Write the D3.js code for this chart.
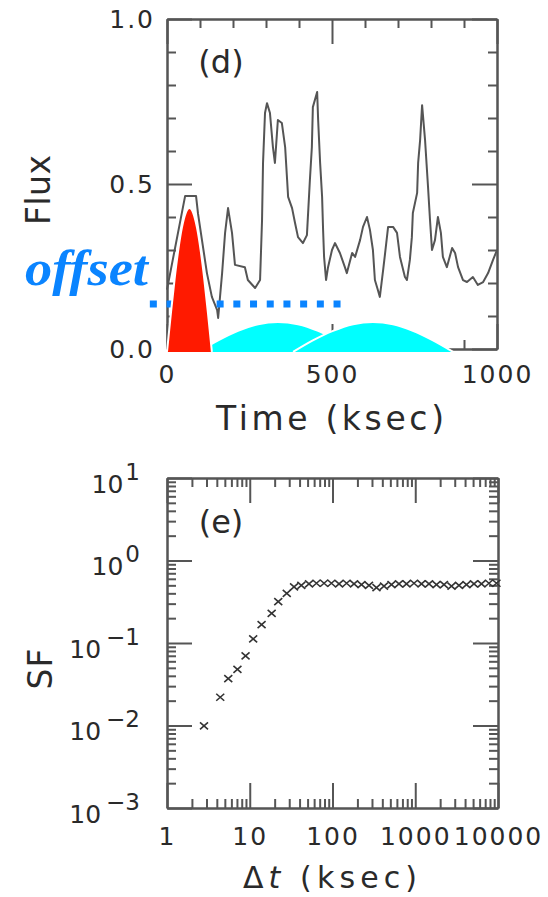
<!DOCTYPE html>
<html>
<head>
<meta charset="utf-8">
<script src="https://cdn.jsdelivr.net/npm/d3@7"></script>
<style>
body { margin: 0; background: #fff; }
text { font-family: "DejaVu Sans", sans-serif; fill: #2a2a2a; }
.axis path, .axis line { stroke: #555; stroke-width: 2; }
</style>
</head>
<body>
<div id="chart"></div>
<script>
var svgWidth = 548;
var svgHeight = 897;

// ---- panel (d): light curve ----
var lcTime = [0, 55, 88, 94, 106, 121, 136, 152, 155, 167, 176, 185, 197, 206, 236, 245, 267, 282, 288, 291,
  297, 303, 312, 321, 327, 336, 348, 358, 364, 367, 379, 388, 397, 412, 424, 433, 439, 442, 455, 458,
  464, 470, 473, 476, 482, 488, 500, 509, 524, 539, 545, 561, 570, 585, 594, 606, 615, 624, 630, 639,
  645, 655, 661, 670, 685, 697, 706, 721, 727, 736, 742, 745, 758, 761, 767, 773, 782, 791, 797, 803,
  812, 821, 830, 836, 848, 864, 873, 882, 897, 909, 927, 942, 958, 973, 988, 1000];
var lcFlux = [0.18, 0.464, 0.464, 0.41, 0.33, 0.23, 0.158, 0.118, 0.094, 0.23, 0.352, 0.427, 0.352, 0.255, 0.248, 0.209, 0.185, 0.209, 0.391, 0.564,
  0.715, 0.745, 0.715, 0.612, 0.564, 0.694, 0.685, 0.612, 0.512, 0.461, 0.427, 0.382, 0.339, 0.321, 0.345, 0.512, 0.612, 0.733, 0.779, 0.694,
  0.564, 0.461, 0.361, 0.279, 0.209, 0.248, 0.30, 0.321, 0.291, 0.248, 0.23, 0.291, 0.279, 0.33, 0.37, 0.40, 0.361, 0.30, 0.209, 0.179,
  0.158, 0.24, 0.291, 0.37, 0.37, 0.352, 0.279, 0.218, 0.209, 0.27, 0.339, 0.412, 0.473, 0.564, 0.633, 0.739, 0.633, 0.491, 0.391, 0.30,
  0.33, 0.40, 0.352, 0.279, 0.248, 0.306, 0.291, 0.248, 0.209, 0.203, 0.218, 0.194, 0.203, 0.23, 0.27, 0.30];

// flare components
var redTime = [0, 12, 23, 34, 45, 57, 68, 79, 91, 102, 113, 124, 136];
var redFlux = [-0.009, 0.11, 0.212, 0.299, 0.367, 0.413, 0.427, 0.413, 0.367, 0.299, 0.212, 0.11, -0.009];
var cyan1Time = [94, 155, 215, 276, 336, 397, 458, 518, 579];
var cyan1Flux = [-0.009, 0.026, 0.055, 0.075, 0.082, 0.075, 0.055, 0.026, -0.009];
var cyan2Time = [382, 442, 503, 564, 624, 685, 745, 806, 867];
var cyan2Flux = [-0.009, 0.026, 0.055, 0.075, 0.082, 0.075, 0.055, 0.026, -0.009];
var offsetLevel = 0.136;
var offsetSpan = [-52, 530];

var timeTicks = [0, 500, 1000];
var timeMinor = [100, 200, 300, 400, 600, 700, 800, 900];
var fluxTicks = [0, 0.5, 1.0];
var fluxMinor = [0.1, 0.2, 0.3, 0.4, 0.6, 0.7, 0.8, 0.9];

// ---- panel (e): structure function ----
var sfLag = [2.8, 4.4, 5.5, 7.1, 8.9, 11, 13.9, 18.4, 22.1, 28, 34.3,
  42, 52, 64, 79, 97, 120, 148, 182, 224, 276, 340, 419, 516, 636, 784, 966,
  1190, 1466, 1806, 2225, 2741, 3377, 4160, 5125, 6314, 7778, 9582];
var sfValue = [0.0099, 0.022, 0.037, 0.048, 0.070, 0.112, 0.167, 0.229, 0.317, 0.40, 0.48,
  0.50, 0.52, 0.53, 0.53, 0.53, 0.52, 0.53, 0.52, 0.51, 0.50, 0.47, 0.49, 0.51, 0.52, 0.52, 0.53,
  0.52, 0.52, 0.51, 0.51, 0.49, 0.50, 0.51, 0.52, 0.52, 0.53, 0.53];

var lagTicks = [1, 10, 100, 1000, 10000];
var lagMinor = [2, 3, 4, 5, 6, 7, 8, 9, 20, 30, 40, 50, 60, 70, 80, 90,
  200, 300, 400, 500, 600, 700, 800, 900, 2000, 3000, 4000, 5000, 6000, 7000, 8000, 9000];
var sfTicks = [0.001, 0.01, 0.1, 1, 10];
var sfMinor = [0.002, 0.003, 0.004, 0.005, 0.006, 0.007, 0.008, 0.009,
  0.02, 0.03, 0.04, 0.05, 0.06, 0.07, 0.08, 0.09,
  0.2, 0.3, 0.4, 0.5, 0.6, 0.7, 0.8, 0.9, 2, 3, 4, 5, 6, 7, 8, 9];

var svg = d3.select("#chart").append("svg").attr("width", svgWidth).attr("height", svgHeight);

function addAxis(axis, tx, ty) {
  return svg.append("g").attr("class", "axis").attr("transform", `translate(${tx},${ty})`).call(axis);
}

// four-sided frame with inward ticks, labels on bottom and left only
function frame(x, y, majorX, minorX, majorY, minorY, minorLen, fmtX, padX, fmtY, padY) {
  var x0 = x.range()[0], x1 = x.range()[1];
  var yb = y.range()[0], yt = y.range()[1];
  addAxis(d3.axisBottom(x).tickValues(minorX).tickSize(-minorLen).tickSizeOuter(0).tickFormat(""), 0, yb);
  var gb = addAxis(d3.axisBottom(x).tickValues(majorX).tickSize(-25).tickSizeOuter(0).tickPadding(padX).tickFormat(fmtX), 0, yb);
  addAxis(d3.axisTop(x).tickValues(majorX).tickSize(-25).tickSizeOuter(0).tickFormat(""), 0, yt);
  addAxis(d3.axisTop(x).tickValues(minorX).tickSize(-minorLen).tickSizeOuter(0).tickFormat(""), 0, yt);
  addAxis(d3.axisLeft(y).tickValues(minorY).tickSize(-minorLen).tickSizeOuter(0).tickFormat(""), x0, 0);
  var gl = addAxis(d3.axisLeft(y).tickValues(majorY).tickSize(-25).tickSizeOuter(0).tickPadding(padY).tickFormat(fmtY), x0, 0);
  addAxis(d3.axisRight(y).tickValues(majorY).tickSize(-25).tickSizeOuter(0).tickFormat(""), x1, 0);
  addAxis(d3.axisRight(y).tickValues(minorY).tickSize(-minorLen).tickSizeOuter(0).tickFormat(""), x1, 0);
  [gb, gl].forEach(function(g) {
    g.selectAll(".tick text").attr("font-family", "DejaVu Sans").attr("font-size", 25)
      .attr("letter-spacing", 2).attr("fill", "#2a2a2a");
  });
  return {bottom: gb, left: gl};
}

// ================= panel (d) =================
var xT = d3.scaleLinear().domain([0, 1000]).range([167, 497]);
var yF = d3.scaleLinear().domain([0, 1]).range([349, 19]);

frame(xT, yF, timeTicks, timeMinor, fluxTicks, fluxMinor, 9, d3.format("d"), 16, d3.format(".1f"), 12);

// light curve
svg.append("path")
  .datum(lcTime.map((t, i) => [t, lcFlux[i]]))
  .attr("fill", "none").attr("stroke", "#555").attr("stroke-width", 2).attr("stroke-linejoin", "round")
  .attr("d", d3.line().x(d => xT(d[0])).y(d => yF(d[1])));

// offset level (dotted)
svg.append("line")
  .attr("x1", xT(offsetSpan[0])).attr("x2", xT(offsetSpan[1]))
  .attr("y1", yF(offsetLevel)).attr("y2", yF(offsetLevel))
  .attr("stroke", "#0a84ff").attr("stroke-width", 7).attr("stroke-dasharray", "7,9.7");

var hump = d3.area().x(d => xT(d[0])).y0(yF(-0.009)).y1(d => yF(d[1])).curve(d3.curveCardinal);
var humpLine = d3.line().x(d => xT(d[0])).y(d => yF(d[1])).curve(d3.curveCardinal);

[[cyan1Time, cyan1Flux, "#00ffff"], [cyan2Time, cyan2Flux, "#00ffff"], [redTime, redFlux, "#ff1a00"]].forEach(function(s) {
  var pts = s[0].map((t, i) => [t, s[1][i]]);
  svg.append("path").datum(pts).attr("fill", s[2]).attr("d", hump);
  svg.append("path").datum(pts).attr("fill", "none").attr("stroke", "#fff").attr("stroke-width", 2).attr("d", humpLine);
});

svg.append("text").attr("x", 221).attr("y", 73).attr("text-anchor", "middle")
  .attr("font-size", 32).text("(d)");
svg.append("text").attr("x", 330).attr("y", 430).attr("text-anchor", "middle")
  .attr("font-size", 33).attr("textLength", 228).attr("lengthAdjust", "spacing").text("Time (ksec)");
svg.append("text").attr("transform", "translate(50,190) rotate(-90)").attr("text-anchor", "middle")
  .attr("font-size", 33).attr("textLength", 70).attr("lengthAdjust", "spacing").text("Flux");
svg.append("text").attr("x", 25).attr("y", 285)
  .style("font-family", "'Liberation Serif', serif").style("font-style", "italic").style("font-weight", "bold")
  .style("fill", "#0a84ff").attr("font-size", 50).attr("textLength", 123).attr("lengthAdjust", "spacingAndGlyphs")
  .text("offset");

// ================= panel (e) =================
var xL = d3.scaleLog().domain([1, 10000]).range([167, 498]);
var ySF = d3.scaleLog().domain([0.001, 10]).range([808, 478]);

var panelE = frame(xL, ySF, lagTicks, lagMinor, sfTicks, sfMinor, 9, d3.format("d"), 19, () => "", 0);

panelE.left.selectAll(".tick text").each(function(d) {
  var e = Math.round(Math.log10(d));
  var t = d3.select(this).attr("x", -27).attr("y", 14).attr("dy", null)
    .attr("text-anchor", "end").attr("letter-spacing", 0);
  t.append("tspan").attr("font-size", 25).text("10");
  t.append("tspan").attr("font-size", 23).attr("dx", e < 0 ? 5 : 2).attr("dy", -13)
    .text(e < 0 ? "\u2212" + (-e) : String(e));
});

svg.append("g").selectAll("path").data(sfLag.map((t, i) => [t, sfValue[i]])).enter().append("path")
  .attr("transform", d => `translate(${xL(d[0])},${ySF(d[1])})`)
  .attr("d", "M-4,-3.5L4,3.5M-4,3.5L4,-3.5")
  .attr("stroke", "#333").attr("stroke-width", 1.6).attr("fill", "none");

svg.append("text").attr("x", 221).attr("y", 533).attr("text-anchor", "middle")
  .attr("font-size", 32).text("(e)");
var dl = svg.append("text").attr("x", 330).attr("y", 888).attr("text-anchor", "middle")
  .attr("font-size", 30).attr("textLength", 174).attr("lengthAdjust", "spacing");
dl.append("tspan").text("\u0394");
dl.append("tspan").style("font-style", "italic").text("t");
dl.append("tspan").text(" (ksec)");
svg.append("text").attr("transform", "translate(52,669) rotate(-90)").attr("text-anchor", "middle")
  .attr("font-size", 33).attr("textLength", 41).attr("lengthAdjust", "spacing").text("SF");
</script>
</body>
</html>
